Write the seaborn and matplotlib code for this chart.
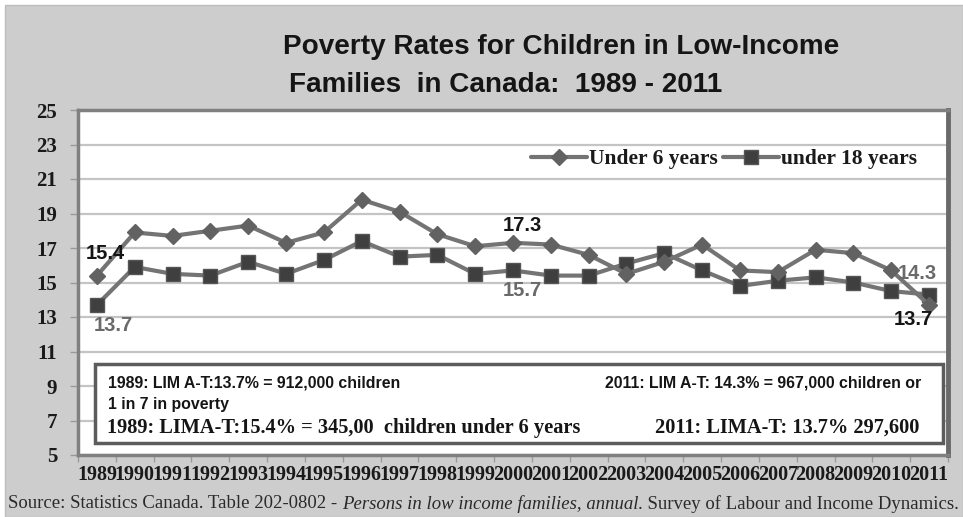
import matplotlib
matplotlib.use("Agg")
import matplotlib.pyplot as plt
import seaborn as sns
import pandas as pd
from matplotlib.patches import Rectangle
from matplotlib import font_manager

# ---------------- data ----------------
years = list(range(1989, 2012))
under6 = [15.4, 17.9, 17.7, 18.0, 18.3, 17.3, 17.9, 19.8, 19.1, 17.8, 17.1, 17.3,
          17.2, 16.6, 15.5, 16.2, 17.2, 15.7, 15.6, 16.9, 16.7, 15.7, 13.7]
under18 = [13.7, 15.9, 15.5, 15.4, 16.2, 15.5, 16.3, 17.4, 16.5, 16.6, 15.5, 15.7,
           15.4, 15.4, 16.1, 16.7, 15.7, 14.8, 15.1, 15.3, 15.0, 14.5, 14.3]
series_names = ["Under 6 years", "under 18 years"]
y_ticks = list(range(5, 26, 2))
title_lines = ["Poverty Rates for Children in Low-Income",
               "Families  in Canada:  1989 - 2011"]
note_left = ["1989: LIM A-T:13.7% = 912,000 children", "1 in 7 in poverty",
             "1989: LIMA-T:15.4% = 345,00  children under 6 years"]
note_right = ["2011: LIM A-T: 14.3% = 967,000 children or",
              "2011: LIMA-T: 13.7% 297,600"]
source_parts = ["Source: Statistics Canada. Table 202-0802 - ",
                "Persons in low income families, annual",
                ". Survey of Labour and Income Dynamics."]

df = pd.DataFrame({
    "year": years * 2,
    "rate": under6 + under18,
    "series": [series_names[0]] * len(years) + [series_names[1]] * len(years),
})

# ---------------- fonts ----------------
sns.set_theme(style="white")
names = {f.name for f in font_manager.fontManager.ttflist}
NARROW = "Liberation Sans Narrow" if "Liberation Sans Narrow" in names else "Liberation Sans"
SERIF = "Liberation Serif"
SANS = "Liberation Sans"
plt.rcParams["font.family"] = [SERIF, "DejaVu Serif"]

W, H = 963, 517
fig = plt.figure(figsize=(W / 100, H / 100), dpi=100, facecolor="white")
fig.patches.append(Rectangle((5 / W, 0), 1 - 5 / W, 1 - 5 / H, transform=fig.transFigure,
                             facecolor="#cdcdcd", edgecolor="#bdbdbd", lw=1, zorder=-5))
renderer = fig.canvas.get_renderer()


def fit(txt, target_px):
    w = txt.get_window_extent(renderer).width
    txt.set_fontsize(txt.get_fontsize() * target_px / w)


ax = fig.add_axes([78 / W, 1 - 455 / H, (948 - 78) / W, (455 - 110) / H])
ax.set_facecolor("white")

line_color = "#747474"
sns.lineplot(data=df[df.series == series_names[0]], x="year", y="rate", ax=ax,
             color=line_color, linewidth=3, marker="D", markersize=8.5,
             markerfacecolor="#626262", markeredgecolor="#626262", markeredgewidth=1,
             label=series_names[0], zorder=4)
sns.lineplot(data=df[df.series == series_names[1]], x="year", y="rate", ax=ax,
             color=line_color, linewidth=3, marker="s", markersize=9.5,
             markerfacecolor="#3f3f3f", markeredgecolor="#555555", markeredgewidth=1,
             label=series_names[1], zorder=3)

ax.set_xlim(years[0] - 0.5, years[-1] + 0.5)
ax.set_ylim(y_ticks[0], y_ticks[-1])
ax.set_yticks(y_ticks)
ax.set_xticks(years)
ax.set_xticklabels([str(y) for y in years])
ax.set_xticks([y - 0.5 for y in years] + [years[-1] + 0.5], minor=True)
ax.set_xlabel("")
ax.set_ylabel("")
ax.yaxis.grid(True, color="#c4c4c4", linewidth=1.6)
ax.xaxis.grid(False)
for s in ax.spines.values():
    s.set_color("#808080")
    s.set_linewidth(2.5)
ax.spines["right"].set_color("#6a6a6a")
ax.spines["right"].set_linewidth(3.5)

ax.tick_params(axis="y", which="major", length=6, width=1, color="#9a9a9a", pad=9,
               labelsize=15, left=True)
ax.tick_params(axis="x", which="major", length=0, pad=7, labelsize=14.5)
ax.tick_params(axis="x", which="minor", length=5, width=1, color="#9a9a9a", bottom=True)
for lbl in ax.get_yticklabels() + ax.get_xticklabels():
    lbl.set_fontweight("bold")
    lbl.set_color("#1a1a1a")
    lbl.set_family(SERIF)

# legend
leg = ax.legend(loc="center right", bbox_to_anchor=(917 / W, 1 - 159 / H),
                bbox_transform=fig.transFigure, ncol=2, frameon=False,
                handlelength=2.6, handletextpad=0.1, columnspacing=0.25,
                borderpad=0, borderaxespad=0,
                prop={"family": SERIF, "weight": "bold", "size": 15.5})
for t in leg.get_texts():
    t.set_color("#1a1a1a")


# data labels (dx, dy given in pixels, dy positive = downwards)
def lab(x, y, txt, dx, dy, color):
    ax.annotate(txt, xy=(x, y), xytext=(dx * 0.72, -dy * 0.72), textcoords="offset points",
                ha="center", va="center", fontsize=14.5, fontweight="bold",
                family=SANS, color=color, zorder=6)


i0, i2000, iN = 0, years.index(2000), len(years) - 1
lab(years[i0], under6[i0], f"{under6[i0]:.1f}", 8, -22, "#151515")
lab(years[i0], under18[i0], f"{under18[i0]:.1f}", 16, 21, "#6a6a6a")
lab(years[i2000], under6[i2000], f"{under6[i2000]:.1f}", 9, -17, "#151515")
lab(years[i2000], under18[i2000], f"{under18[i2000]:.1f}", 9, 20, "#6a6a6a")
lab(years[iN], under18[iN], f"{under18[iN]:.1f}", -12, -21, "#6a6a6a")
lab(years[iN], under6[iN], f"{under6[iN]:.1f}", -16, 15, "#151515")

# note box
box = Rectangle((95 / W, 1 - 443 / H), (943 - 95) / W, (443 - 364) / H,
                transform=fig.transFigure, facecolor="white", edgecolor="#5c5c5c",
                lw=2.5, zorder=7, clip_on=False)
ax.add_patch(box)
nkw = dict(family=[NARROW, "DejaVu Sans"], fontsize=12, fontweight="bold",
           va="center", color="#151515")
skw = dict(family=SERIF, fontsize=12.5, fontweight="bold", va="center", color="#151515")
a = fig.text(108 / W, 1 - 383 / H, note_left[0], ha="left", **nkw)
fit(a, 291)
b = fig.text(108 / W, 1 - 405 / H, note_left[1], ha="left", **nkw)
b.set_fontsize(a.get_fontsize())
c = fig.text(107 / W, 1 - 428 / H, note_left[2], ha="left", **skw)
fit(c, 474)
d = fig.text(921 / W, 1 - 383 / H, note_right[0], ha="right", **nkw)
d.set_fontsize(a.get_fontsize())
e = fig.text(919 / W, 1 - 428 / H, note_right[1], ha="right", **skw)
e.set_fontsize(c.get_fontsize())

# title
tkw = dict(family=[NARROW, "DejaVu Sans"], fontsize=22, fontweight="bold",
           va="center", ha="left", color="#151515")
t_a = fig.text(283 / W, 1 - 47 / H, title_lines[0], **tkw)
fit(t_a, 555)
t_b = fig.text(289 / W, 1 - 85 / H, title_lines[1], **tkw)
t_b.set_fontsize(t_a.get_fontsize())

# source line (regular + italic + regular), fitted to the full width
srckw = dict(family=SERIF, fontsize=12, va="center", ha="left", color="#2a2a2a")
styles = ["normal", "italic", "normal"]
parts = [fig.text(0, 1 - 504 / H, p, style=s, **srckw) for p, s in zip(source_parts, styles)]
total = sum(p.get_window_extent(renderer).width for p in parts)
scale = 947 / total
x = 8
for p in parts:
    p.set_fontsize(p.get_fontsize() * scale)
    p.set_x(x / W)
    x += p.get_window_extent(renderer).width

fig.savefig("out.png", dpi=100, facecolor=fig.get_facecolor())
